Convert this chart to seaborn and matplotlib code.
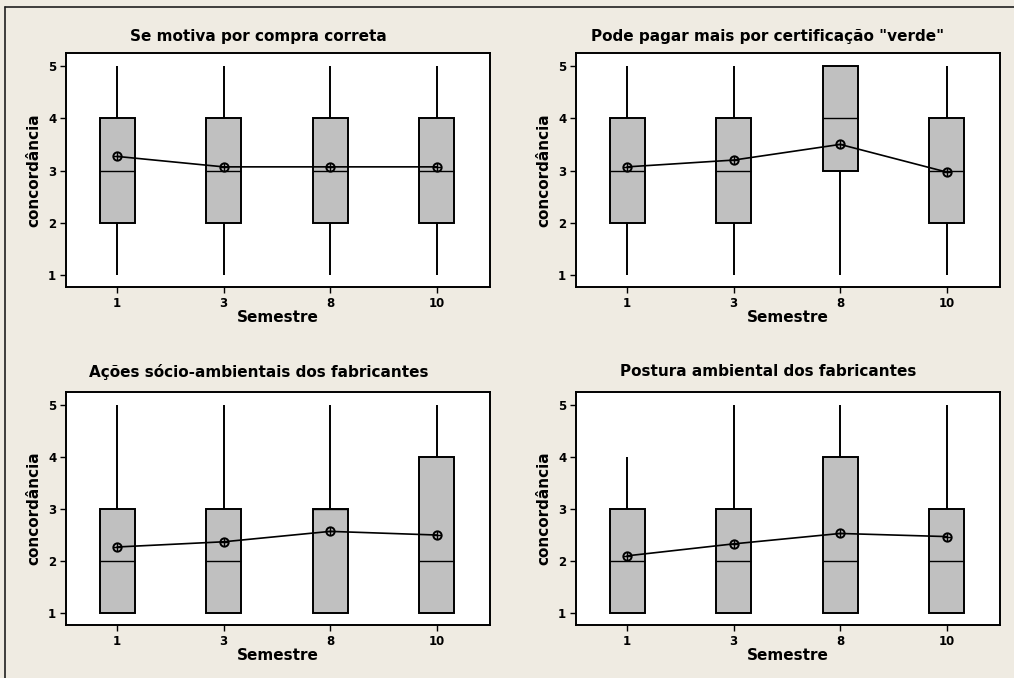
import numpy as np
import pandas as pd
import seaborn as sns
import matplotlib.pyplot as plt
from matplotlib.lines import Line2D

# ==========================================
# Data (five-number summary per semester + means)
# ==========================================
semestres = ["1", "3", "8", "10"]

titulos = [
    "Se motiva por compra correta",
    'Pode pagar mais por certificação "verde"',
    "Ações sócio-ambientais dos fabricantes",
    "Postura ambiental dos fabricantes",
]

# [min, Q1, mediana, Q3, max] for semesters 1, 3, 8, 10
resumo_compra = [[1, 2, 3, 4, 5], [1, 2, 3, 4, 5], [1, 2, 3, 4, 5], [1, 2, 3, 4, 5]]
resumo_verde = [[1, 2, 3, 4, 5], [1, 2, 3, 4, 5], [1, 3, 4, 5, 5], [1, 2, 3, 4, 5]]
resumo_acoes = [[1, 1, 2, 3, 5], [1, 1, 2, 3, 5], [1, 1, 3, 3, 5], [1, 1, 2, 4, 5]]
resumo_postura = [[1, 1, 2, 3, 4], [1, 1, 2, 3, 5], [1, 1, 2, 4, 5], [1, 1, 2, 3, 5]]

media_compra = [3.27, 3.07, 3.07, 3.07]
media_verde = [3.07, 3.20, 3.50, 2.97]
media_acoes = [2.27, 2.37, 2.57, 2.50]
media_postura = [2.10, 2.33, 2.53, 2.47]

resumos = [resumo_compra, resumo_verde, resumo_acoes, resumo_postura]
medias = [media_compra, media_verde, media_acoes, media_postura]

# ==========================================
# Style
# ==========================================
BG = "#EFEBE2"
BOX = "#C0C0C0"

sns.set_style("white")
plt.rcParams.update({
    "font.family": ["DejaVu Sans"],
    "font.weight": "bold",
    "text.color": "black",
    "axes.labelcolor": "black",
    "xtick.color": "black",
    "ytick.color": "black",
    "axes.labelweight": "bold",
    "axes.linewidth": 1.4,
    "axes.edgecolor": "black",
    "xtick.major.size": 4,
    "ytick.major.size": 4,
    "xtick.major.width": 1.0,
    "ytick.major.width": 1.0,
    "xtick.bottom": True,
    "ytick.left": True,
})

fig = plt.figure(figsize=(10.14, 6.78), dpi=100, facecolor=BG)

W, H = 1014, 678
# axes boxes in pixels: (left, top, right, bottom)
caixas = [(66, 53, 490, 287), (576, 53, 1000, 287),
          (66, 392, 490, 625), (576, 392, 1000, 625)]
titulo_pos = [(258, 36), (768, 36), (259, 372), (768, 372)]

for i in range(4):
    l, t, r, b = caixas[i]
    ax = fig.add_axes([l / W, 1 - b / H, (r - l) / W, (b - t) / H])
    ax.set_facecolor("white")

    linhas = []
    for sem, vals in zip(semestres, resumos[i]):
        for v in vals:
            linhas.append({"Semestre": sem, "concordância": v})
    df = pd.DataFrame(linhas)

    sns.boxplot(data=df, x="Semestre", y="concordância", order=semestres,
                whis=(0, 100), width=0.33, color=BOX, linecolor="black",
                linewidth=1.4, showcaps=False, fliersize=0, saturation=1,
                medianprops={"linewidth": 1.0, "color": "black"}, ax=ax)

    df_media = pd.DataFrame({"Semestre": semestres, "media": medias[i]})
    sns.pointplot(data=df_media, x="Semestre", y="media", order=semestres,
                  color="black", markers="o", errorbar=None,
                  markerfacecolor="none", markersize=6, markeredgewidth=1.4,
                  linewidth=1.2, ax=ax)
    sns.pointplot(data=df_media, x="Semestre", y="media", order=semestres,
                  color="black", markers="+", linestyles="none", errorbar=None,
                  markersize=6, markeredgewidth=1.0, ax=ax)

    ax.set_xlim(-0.48, 3.5)
    ax.set_ylim(0.77, 5.25)
    ax.set_yticks([1, 2, 3, 4, 5])
    ax.tick_params(labelsize=8.5, pad=3, length=4, color="black")
    for lab in ax.get_xticklabels() + ax.get_yticklabels():
        lab.set_fontweight("bold")
    ax.set_xlabel("Semestre", fontsize=11, fontweight="bold", labelpad=0)
    ax.set_ylabel("concordância", fontsize=11, fontweight="bold", labelpad=5)
    for s in ax.spines.values():
        s.set_visible(True)
        s.set_color("black")

    tx, ty = titulo_pos[i]
    fig.text(tx / W, 1 - ty / H, titulos[i], ha="center", va="center",
             fontsize=11, fontweight="bold", color="black")

# outer frame (left and top edges)
fig.add_artist(Line2D([5 / W, 5 / W], [0, 1 - 7 / H], transform=fig.transFigure,
                      color="#202020", linewidth=1.2))
fig.add_artist(Line2D([5 / W, 1], [1 - 7 / H, 1 - 7 / H], transform=fig.transFigure,
                      color="#202020", linewidth=1.2))

fig.savefig("out.png", dpi=100, facecolor=BG)
